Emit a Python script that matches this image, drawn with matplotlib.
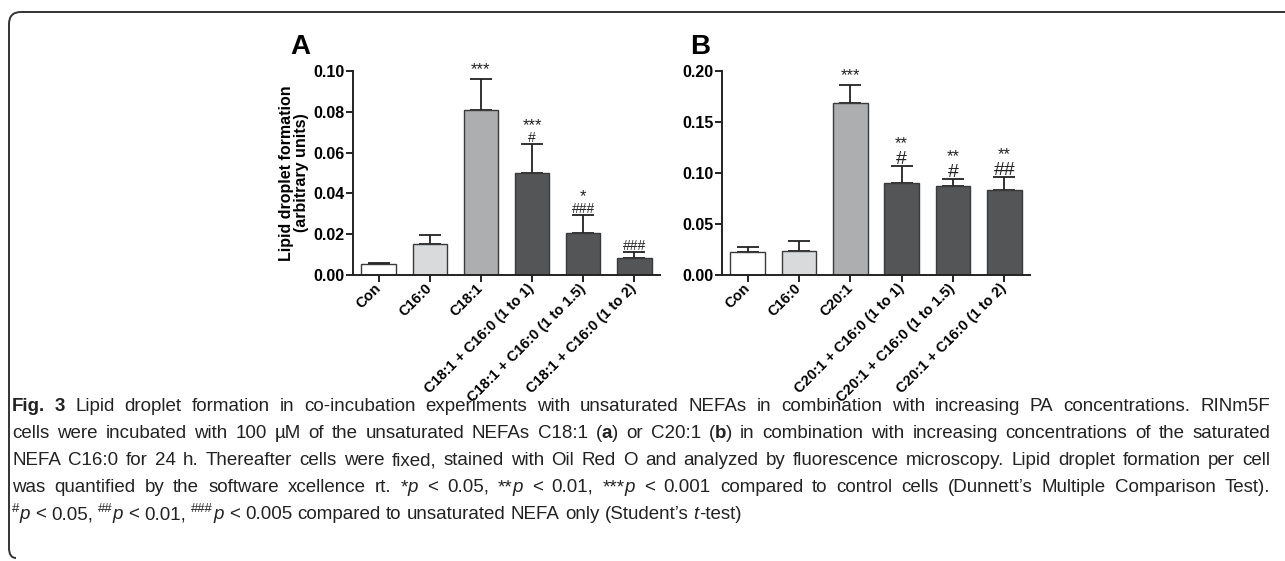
import matplotlib
matplotlib.use("Agg")
import matplotlib.pyplot as plt
import matplotlib.font_manager as fm
from matplotlib.path import Path
from matplotlib.patches import PathPatch
import numpy as np

# data
labels_a = ['Con', 'C16:0', 'C18:1', 'C18:1 + C16:0 (1 to 1)',
            'C18:1 + C16:0 (1 to 1.5)', 'C18:1 + C16:0 (1 to 2)']
mean_a = [0.0053, 0.0150, 0.0809, 0.0499, 0.0205, 0.0085]
err_a = [0.0007, 0.0046, 0.0152, 0.0142, 0.0088, 0.0027]
stars_a = ['', '', '***', '***', '*', '']
hash_a = ['', '', '', '#', '###', '###']

labels_b = ['Con', 'C16:0', 'C20:1', 'C20:1 + C16:0 (1 to 1)',
            'C20:1 + C16:0 (1 to 1.5)', 'C20:1 + C16:0 (1 to 2)']
mean_b = [0.0229, 0.0238, 0.1683, 0.0902, 0.0869, 0.0833]
err_b = [0.0049, 0.0095, 0.0177, 0.0170, 0.0072, 0.0128]
stars_b = ['', '', '***', '**', '**', '**']
hash_b = ['', '', '', '#', '#', '##']

bar_colors = ['white', '#d9dadb', '#adaeb0', '#545557', '#545557', '#545557']

W, H = 1285, 561
fig = plt.figure(figsize=(W / 100, H / 100), dpi=100)
plt.rcParams['font.family'] = ['Liberation Sans', 'DejaVu Sans']

names = {f.name for f in fm.fontManager.ttflist}
cap_font = 'Liberation Sans Narrow' if 'Liberation Sans Narrow' in names else 'Liberation Sans'


def px(x, y):
    return x / W, 1 - y / H


def panel(rect, labels, mean, err, stars, hashes, ymax, yticks, hash_fs):
    ax = fig.add_axes(rect)
    x = np.arange(len(labels))
    ax.bar(x, mean, width=0.67, color=bar_colors, edgecolor='#3a3a3a',
           linewidth=1.0, zorder=2)
    ax.errorbar(x, mean, yerr=[np.zeros(len(err)), err], fmt='none',
                ecolor='#222222', elinewidth=1.3, capsize=8, capthick=1.3, zorder=1)
    ax.set_xlim(-0.5, len(labels) - 0.5)
    ax.set_ylim(0, ymax)
    ax.set_yticks(yticks)
    ax.set_yticklabels(['%.2f' % v for v in yticks], fontsize=11.5, fontweight='bold')
    ax.set_xticks(x)
    ax.set_xticklabels(labels, rotation=45, ha='right', va='center',
                       rotation_mode='anchor', fontsize=10.5, fontweight='bold')
    for s in ['top', 'right']:
        ax.spines[s].set_visible(False)
    for s in ['left', 'bottom']:
        ax.spines[s].set_linewidth(1.4)
        ax.spines[s].set_color('#222222')
    ax.tick_params(axis='both', direction='out', length=5, width=1.4, color='#222222')
    ax.tick_params(axis='x', pad=3)
    ax.tick_params(axis='y', pad=1)
    hash_h = 0.72 * hash_fs * 100 / 72
    for i in range(len(labels)):
        top = mean[i] + err[i]
        if hashes[i]:
            ax.annotate(hashes[i], (x[i], top), xytext=(0, 2), textcoords='offset pixels',
                        ha='center', va='baseline', fontsize=hash_fs, color='#222222')
            off = 2 + hash_h + 2
        else:
            off = 5
        if stars[i]:
            ax.annotate(stars[i], (x[i], top), xytext=(0, off), textcoords='offset pixels',
                        ha='center', va='baseline', fontsize=12, color='#222222')
    return ax


ax_a = panel([353 / W, 1 - 275 / H, 307 / W, 204 / H], labels_a, mean_a, err_a,
             stars_a, hash_a, 0.10, [0, 0.02, 0.04, 0.06, 0.08, 0.10], 10)
ax_a.set_ylabel('Lipid droplet formation\n(arbitrary units)', fontsize=11.5,
                fontweight='bold', linespacing=1.05, labelpad=3)
ax_b = panel([722 / W, 1 - 275 / H, 308 / W, 204 / H], labels_b, mean_b, err_b,
             stars_b, hash_b, 0.20, [0, 0.05, 0.10, 0.15, 0.20], 14)
fig.text(*px(300, 47), 'A', fontsize=20, fontweight='bold', ha='center', va='center')
fig.text(*px(700, 47), 'B', fontsize=20, fontweight='bold', ha='center', va='center')

# frame line
verts = [(W, 12), (21, 12), (9, 12), (9, 24), (9, 548), (9, 558), (16, 558)]
verts = [px(a, b) for a, b in verts]
codes = [Path.MOVETO, Path.LINETO, Path.CURVE3, Path.CURVE3, Path.LINETO,
         Path.CURVE3, Path.CURVE3]
fig.add_artist(PathPatch(Path(verts, codes), transform=fig.transFigure,
                         fill=False, edgecolor='#333333', linewidth=1.4))

# caption
caption = [
    [('Fig. 3', 'b'), (' Lipid droplet formation in co-incubation experiments with unsaturated '
                       'NEFAs in combination with increasing PA concentrations. RINm5F', 'n')],
    [('cells were incubated with 100 µM of the unsaturated NEFAs C18:1 (', 'n'), ('a', 'b'),
     (') or C20:1 (', 'n'), ('b', 'b'),
     (') in combination with increasing concentrations of the saturated', 'n')],
    [('NEFA C16:0 for 24 h. Thereafter cells were fixed, stained with Oil Red O and analyzed '
      'by fluorescence microscopy. Lipid droplet formation per cell', 'n')],
    [('was quantified by the software xcellence rt. *', 'n'), ('p', 'i'), (' < 0.05, **', 'n'),
     ('p', 'i'), (' < 0.01, ***', 'n'), ('p', 'i'),
     (' < 0.001 compared to control cells (Dunnett\u2019s Multiple Comparison Test).', 'n')],
    [('#', 's'), ('p', 'i'), (' < 0.05, ', 'n'), ('##', 's'), ('p', 'i'), (' < 0.01, ', 'n'),
     ('###', 's'), ('p', 'i'), (' < 0.005 compared to unsaturated NEFA only (Student\u2019s ', 'n'),
     ('t', 'i'), ('-test)', 'n')],
]
baselines = [411, 438, 465, 492, 519]
cap_fs = 13.5
renderer = fig.canvas.get_renderer()


def style_kw(sty):
    kw = dict(fontsize=cap_fs, family=cap_font, color='#222222')
    if sty == 'b':
        kw['fontweight'] = 'bold'
    if sty == 'i':
        kw['style'] = 'italic'
    if sty == 's':
        kw['fontsize'] = cap_fs * 0.7
    return kw


x_left, x_right = 12, 1270
probe2 = fig.text(0, 0, 'a a', **style_kw('n'))
probe1 = fig.text(0, 0, 'aa', **style_kw('n'))
space_w = probe2.get_window_extent(renderer).width - probe1.get_window_extent(renderer).width
probe2.remove()
probe1.remove()

for li, line in enumerate(caption):
    pieces = []
    gap = False
    for txt, sty in line:
        words = txt.split(' ')
        for k, w in enumerate(words):
            if k > 0:
                gap = True
            if w == '':
                continue
            pieces.append([w, sty, gap])
            gap = False
    arts = []
    for w, sty, g in pieces:
        arts.append(fig.text(0, 0, w, ha='left', va='baseline', **style_kw(sty)))
    widths = [t.get_window_extent(renderer).width for t in arts]
    ngaps = sum(1 for p in pieces if p[2])
    if li < len(caption) - 1 and ngaps:
        gw = (x_right - x_left - sum(widths)) / ngaps
    else:
        gw = space_w
    xx = x_left
    for t, p, wd in zip(arts, pieces, widths):
        if p[2]:
            xx += gw
        dy = 7 if p[1] == 's' else 0
        t.set_position(px(xx, baselines[li] - dy))
        xx += wd

fig.savefig('out.png', dpi=100)
